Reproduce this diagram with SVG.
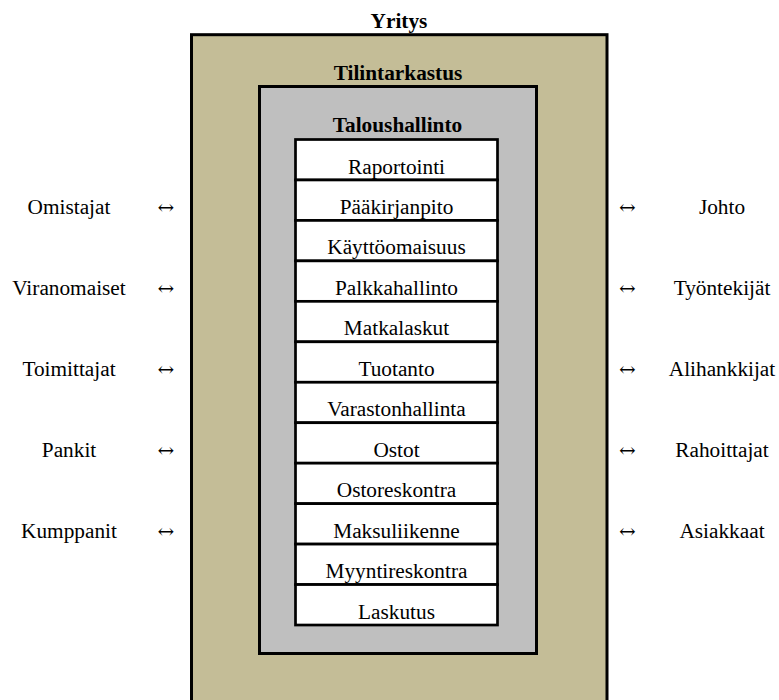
<svg xmlns="http://www.w3.org/2000/svg" width="779" height="700" viewBox="0 0 779 700">
<style>
text{font-family:"Liberation Serif","Times New Roman",serif;font-size:21.3px;fill:#000;text-anchor:middle}
.t{font-weight:bold}
.a{font-family:"DejaVu Serif","DejaVu Sans",serif;font-size:20px}
.box{stroke:#000;stroke-width:3}
.row{fill:#fff;stroke:#000;stroke-width:2.7}
</style>
<rect width="779" height="700" fill="#fff"/>
<g id="yritys">
<rect class="box" x="191.5" y="34.7" width="415.5" height="700" fill="#C4BD97"/>
<text class="t" x="399" y="28.3">Yritys</text>
</g>
<g id="tilintarkastus">
<rect class="box" x="259.5" y="86.5" width="277" height="567" fill="#BFBFBF"/>
<text class="t" x="398" y="80">Tilintarkastus</text>
</g>
<g id="taloushallinto">
<text class="t" x="397.5" y="131.7">Taloushallinto</text>
</g>
<g id="raportointi"><rect class="row" x="295.5" y="139.5" width="202" height="40.46"/><text x="396.5" y="173.5">Raportointi</text></g>
<g id="paakirjanpito"><rect class="row" x="295.5" y="179.96" width="202" height="40.46"/><text x="396.5" y="213.96">Pääkirjanpito</text></g>
<g id="kayttoomaisuus"><rect class="row" x="295.5" y="220.42" width="202" height="40.46"/><text x="396.5" y="254.42">Käyttöomaisuus</text></g>
<g id="palkkahallinto"><rect class="row" x="295.5" y="260.88" width="202" height="40.46"/><text x="396.5" y="294.88">Palkkahallinto</text></g>
<g id="matkalaskut"><rect class="row" x="295.5" y="301.34" width="202" height="40.46"/><text x="396.5" y="335.34">Matkalaskut</text></g>
<g id="tuotanto"><rect class="row" x="295.5" y="341.8" width="202" height="40.46"/><text x="396.5" y="375.8">Tuotanto</text></g>
<g id="varastonhallinta"><rect class="row" x="295.5" y="382.26" width="202" height="40.46"/><text x="396.5" y="416.26">Varastonhallinta</text></g>
<g id="ostot"><rect class="row" x="295.5" y="422.72" width="202" height="40.46"/><text x="396.5" y="456.72">Ostot</text></g>
<g id="ostoreskontra"><rect class="row" x="295.5" y="463.18" width="202" height="40.46"/><text x="396.5" y="497.18">Ostoreskontra</text></g>
<g id="maksuliikenne"><rect class="row" x="295.5" y="503.64" width="202" height="40.46"/><text x="396.5" y="537.64">Maksuliikenne</text></g>
<g id="myyntireskontra"><rect class="row" x="295.5" y="544.1" width="202" height="40.46"/><text x="396.5" y="578.1">Myyntireskontra</text></g>
<g id="laskutus"><rect class="row" x="295.5" y="584.56" width="202" height="40.46"/><text x="396.5" y="618.56">Laskutus</text></g>
<g id="omistajat"><text x="69" y="213.96">Omistajat</text></g>
<g id="viranomaiset"><text x="69" y="294.88">Viranomaiset</text></g>
<g id="toimittajat"><text x="69" y="375.8">Toimittajat</text></g>
<g id="pankit"><text x="69" y="456.72">Pankit</text></g>
<g id="kumppanit"><text x="69" y="537.64">Kumppanit</text></g>
<g id="johto"><text x="722" y="213.96">Johto</text></g>
<g id="tyontekijat"><text x="722" y="294.88">Työntekijät</text></g>
<g id="alihankkijat"><text x="722" y="375.8">Alihankkijat</text></g>
<g id="rahoittajat"><text x="722" y="456.72">Rahoittajat</text></g>
<g id="asiakkaat"><text x="722" y="537.64">Asiakkaat</text></g>
<g id="connectors">
<text class="a" x="166" y="213.96">↔</text>
<text class="a" x="166" y="294.88">↔</text>
<text class="a" x="166" y="375.8">↔</text>
<text class="a" x="166" y="456.72">↔</text>
<text class="a" x="166" y="537.64">↔</text>
<text class="a" x="627.5" y="213.96">↔</text>
<text class="a" x="627.5" y="294.88">↔</text>
<text class="a" x="627.5" y="375.8">↔</text>
<text class="a" x="627.5" y="456.72">↔</text>
<text class="a" x="627.5" y="537.64">↔</text>
</g>
</svg>
